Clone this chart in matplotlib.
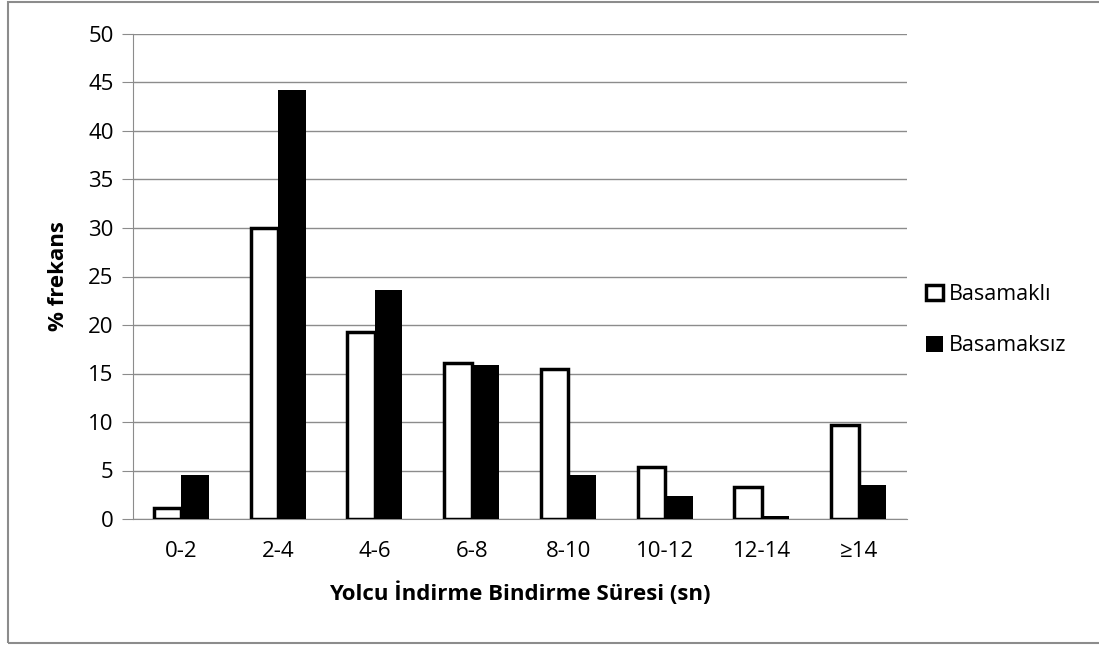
import matplotlib.pyplot as plt
import matplotlib.patches as mpatches
import numpy as np

plt.rcParams['font.family'] = ['Open Sans', 'DejaVu Sans']

categories = ['0-2', '2-4', '4-6', '6-8', '8-10', '10-12', '12-14', '≥14']
basamakli = [1.1, 30.0, 19.3, 16.1, 15.5, 5.4, 3.3, 9.7]
basamaksiz = [4.5, 44.2, 23.6, 15.9, 4.5, 2.4, 0.3, 3.5]

fig = plt.figure(figsize=(10.99, 6.46), dpi=100)
ax = fig.add_axes([133 / 1099, 1 - 519 / 646, 774 / 1099, 485 / 646])

# chart frame
fig.patches.append(mpatches.Rectangle((8 / 1099, 1 - 643 / 646), 1.1, 641 / 646,
                                      transform=fig.transFigure, fill=False,
                                      edgecolor='#8c8c8c', linewidth=1.5))

x = np.arange(len(categories))
w = 0.285
ax.bar(x - w / 2, basamakli, w, color='white', edgecolor='black', linewidth=2.5,
       label='Basamaklı', zorder=3)
ax.bar(x + w / 2, basamaksiz, w, color='black', edgecolor='black', linewidth=0,
       label='Basamaksız', zorder=3)

ax.set_xlim(-0.5, len(categories) - 0.5)
ax.set_ylim(0, 50)
ax.set_yticks(range(0, 51, 5))
ax.set_xticks(x)
ax.set_xticklabels(categories)
ax.yaxis.grid(True, color='#8c8c8c', linewidth=1)
ax.set_axisbelow(True)
for s in ['top', 'right']:
    ax.spines[s].set_visible(False)
ax.spines['left'].set_color('#8c8c8c')
ax.spines['bottom'].set_color('#8c8c8c')
ax.tick_params(axis='y', length=8, color='#8c8c8c', labelsize=16, pad=6)
ax.tick_params(axis='x', length=0, labelsize=16, pad=16)

ax.set_xlabel('Yolcu İndirme Bindirme Süresi (sn)', fontsize=16, fontweight='bold', labelpad=14)
ax.set_ylabel('% frekans', fontsize=16, fontweight='bold', labelpad=14)

ax.legend(loc='center left', bbox_to_anchor=(1.0, 0.41), frameon=False, fontsize=15.5,
          handlelength=0.75, handleheight=0.75, handletextpad=0.3, labelspacing=1.4)

fig.savefig('out.png', dpi=100)
